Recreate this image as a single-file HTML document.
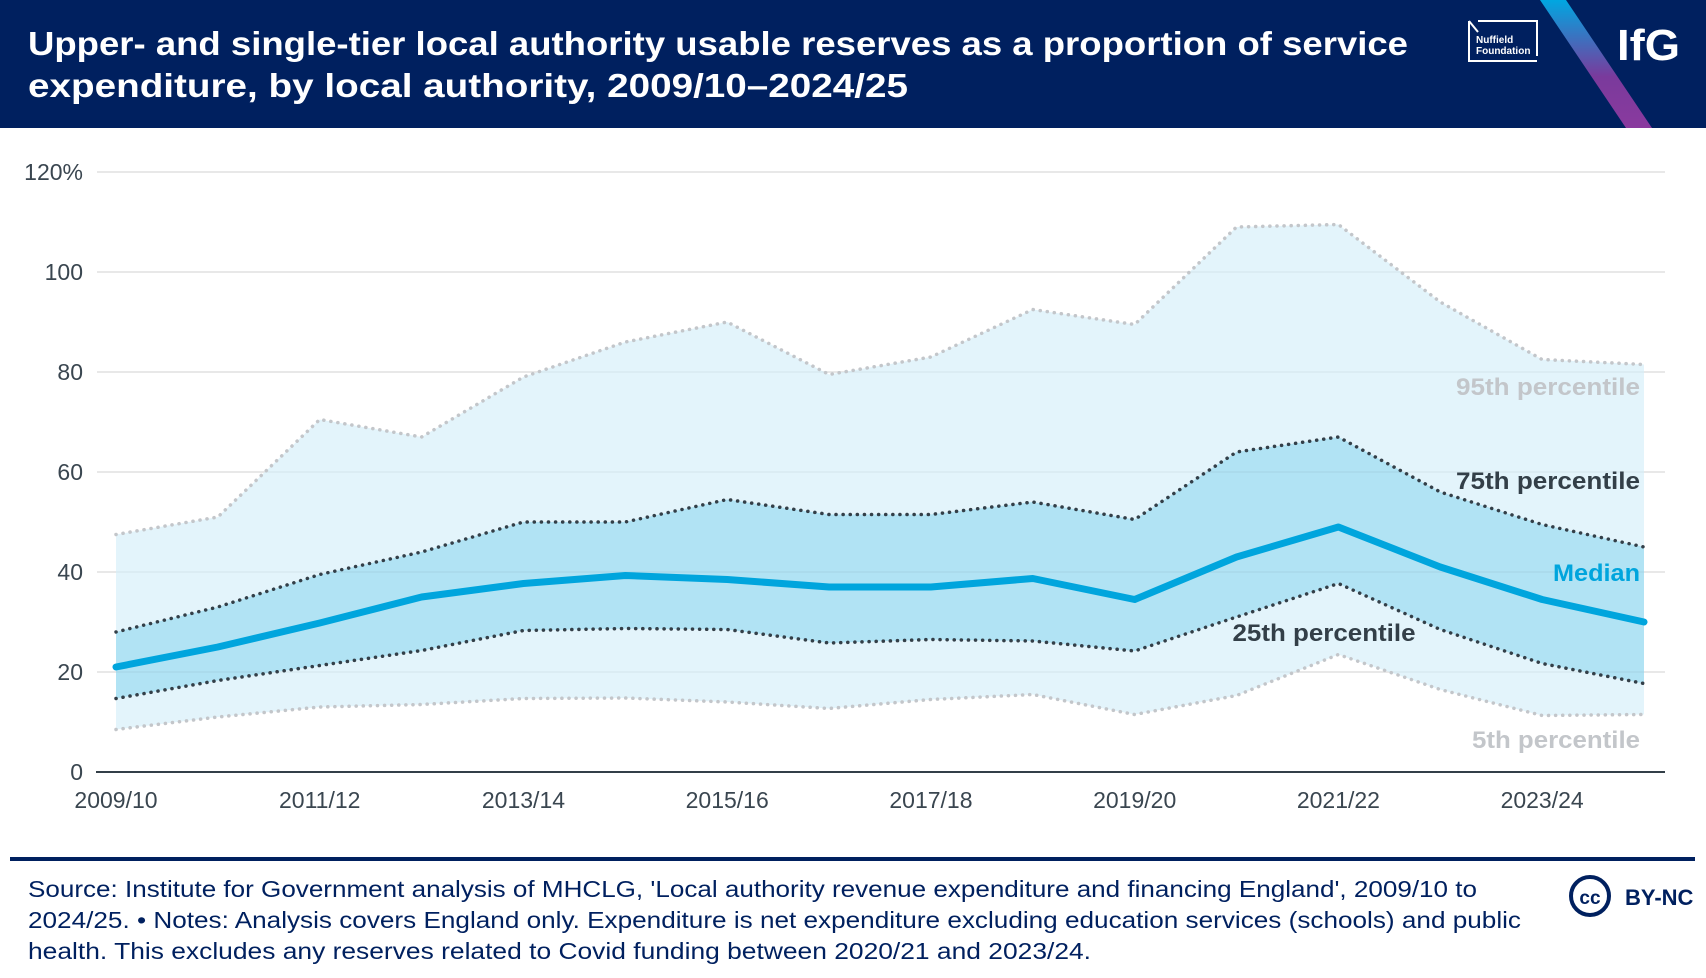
<!DOCTYPE html>
<html><head><meta charset="utf-8"><style>
html,body{margin:0;padding:0;background:#fff;}
svg{display:block;font-family:"Liberation Sans",sans-serif;}
</style></head><body>
<svg id="chart" width="1706" height="978" viewBox="0 0 1706 978">
<defs><linearGradient id="stripe" x1="0" y1="0" x2="0" y2="1"><stop offset="0" stop-color="#00a7e1"/><stop offset="0.6" stop-color="#7a3a9c"/><stop offset="1" stop-color="#8a3a9e"/></linearGradient></defs>
<rect x="0" y="0" width="1706" height="128" fill="#00205f"/>
<text x="28" y="55" fill="#fff" font-size="33" font-weight="bold" textLength="1380" lengthAdjust="spacingAndGlyphs">Upper- and single-tier local authority usable reserves as a proportion of service</text>
<text x="28" y="97" fill="#fff" font-size="33" font-weight="bold" textLength="880" lengthAdjust="spacingAndGlyphs">expenditure, by local authority, 2009/10–2024/25</text>
<g>
<path d="M1469 21 L1469 61 L1537 61 M1537 56 L1537 21 L1478 21 M1469 21 L1478 32" stroke="#fff" stroke-width="2" fill="none"/>
<text x="1476" y="43" fill="#fff" font-size="10" font-weight="bold">Nuffield</text>
<text x="1476" y="54" fill="#fff" font-size="10" font-weight="bold">Foundation</text>
</g>
<polygon points="1540,0 1566,0 1652,128 1626,128" fill="url(#stripe)"/>
<text x="1617" y="60" fill="#fff" font-size="44" font-weight="bold" textLength="63" lengthAdjust="spacingAndGlyphs">IfG</text>
<g id="plot"></g>
<rect x="10" y="857" width="1685" height="4" fill="#00205f"/>
<g fill="#00205f" font-size="23">
<text x="28" y="897" textLength="1449" lengthAdjust="spacingAndGlyphs">Source: Institute for Government analysis of MHCLG, 'Local authority revenue expenditure and financing England', 2009/10 to</text>
<text x="28" y="928" textLength="1493" lengthAdjust="spacingAndGlyphs">2024/25. • Notes: Analysis covers England only. Expenditure is net expenditure excluding education services (schools) and public</text>
<text x="28" y="959" textLength="1063" lengthAdjust="spacingAndGlyphs">health. This excludes any reserves related to Covid funding between 2020/21 and 2023/24.</text>
</g>
<g>
<circle cx="1590" cy="896" r="19" fill="none" stroke="#00205f" stroke-width="4"/>
<text x="1590" y="904" text-anchor="middle" fill="#00205f" font-size="19" font-weight="bold">cc</text>
<text x="1625" y="905" fill="#00205f" font-size="22" font-weight="bold">BY-NC</text>
</g>
</svg>
<script>
const categories=["2009/10","2010/11","2011/12","2012/13","2013/14","2014/15","2015/16","2016/17","2017/18","2018/19","2019/20","2020/21","2021/22","2022/23","2023/24","2024/25"];
const p95=[47.5,51,70.5,67,79,86,90,79.5,83,92.5,89.5,109,109.5,94,82.5,81.5];
const p75=[28,33,39.5,44,50,50,54.5,51.5,51.5,54,50.5,64,67,56,49.5,45];
const median=[21,25,29.8,35,37.7,39.3,38.5,37,37,38.7,34.5,43,49,41,34.5,30];
const p25=[14.7,18.3,21.3,24.3,28.3,28.7,28.5,25.8,26.5,26.2,24.2,31,37.7,28.5,21.7,17.7];
const p5=[8.5,11,13,13.5,14.7,14.8,14,12.7,14.5,15.5,11.5,15.3,23.5,16.5,11.3,11.5];
const yTicks=[0,20,40,60,80,100,120];
const yTickLabels=["0","20","40","60","80","100","120%"];
const xTickLabels=["2009/10","2011/12","2013/14","2015/16","2017/18","2019/20","2021/22","2023/24"];

const NS="http://www.w3.org/2000/svg";
const g=document.getElementById('plot');
const x=i=>116+i*(1644-116)/(categories.length-1);
const y=v=>772-v*(600/120);
function mk(t,a,parent){const e=document.createElementNS(NS,t);for(const k in a)e.setAttribute(k,a[k]);(parent||g).appendChild(e);return e;}
function pts(arr){return arr.map((v,i)=>x(i)+","+y(v)).join(" ");}
function band(lo,hi){return hi.map((v,i)=>x(i)+","+y(v)).concat(lo.map((v,i)=>x(i)+","+y(v)).reverse()).join(" ");}

yTicks.forEach((t,i)=>{
  if(t>0){const l=mk('line',{x1:97,x2:1665,y1:y(t),y2:y(t),stroke:'#f0f0f0','stroke-width':2});
  
  }
  const tx=mk('text',{x:83,y:y(t)+8,'text-anchor':'end','font-size':23,fill:'#3a4650'});
  tx.textContent=yTickLabels[i];
  
  
});
const outer=mk('polygon',{points:band(p5,p95),fill:'#e3f4fb'});


const inner=mk('polygon',{points:band(p25,p75),fill:'#b1e3f4'});


yTicks.forEach(t=>{if(t>0){const l=mk('line',{x1:97,x2:1665,y1:y(t),y2:y(t),stroke:'#000','stroke-opacity':0.03,'stroke-width':2});

}});
const dots={fill:'none','stroke-width':3.5,'stroke-linecap':'round','stroke-dasharray':'0.1 7'};
const l95=mk('polyline',Object.assign({points:pts(p95),stroke:'#c3c6ca'},dots));


const l5=mk('polyline',Object.assign({points:pts(p5),stroke:'#c3c6ca'},dots));


const l75=mk('polyline',Object.assign({points:pts(p75),stroke:'#333f48'},dots));


const l25=mk('polyline',Object.assign({points:pts(p25),stroke:'#333f48'},dots));


const lm=mk('polyline',{points:pts(median),stroke:'#00a5dd','stroke-width':7,fill:'none','stroke-linecap':'round','stroke-linejoin':'round'});


const ax=mk('line',{x1:96,x2:1665,y1:772,y2:772,stroke:'#333f48','stroke-width':2});


xTickLabels.forEach(lbl=>{
  const i=categories.indexOf(lbl);
  const tx=mk('text',{x:x(i),y:808,'text-anchor':'middle','font-size':23,fill:'#3a4650'});
  tx.textContent=lbl;
  
  
});
const labels=[["95th percentile",1640,395,'#c3c6ca','end','label-95th',184],["75th percentile",1640,489,'#333f48','end','label-75th',184],["Median",1640,581,'#00a5dd','end','label-median',87],["25th percentile",1324,641,'#333f48','middle','label-25th',183],["5th percentile",1640,748,'#c3c6ca','end','label-5th',168]];
labels.forEach(L=>{
  const tx=mk('text',{x:L[1],y:L[2],'text-anchor':L[4],'font-size':24,'font-weight':'bold',fill:L[3],textLength:L[6],lengthAdjust:'spacingAndGlyphs'});
  tx.textContent=L[0];
  
  
});
</script>
</body></html>
